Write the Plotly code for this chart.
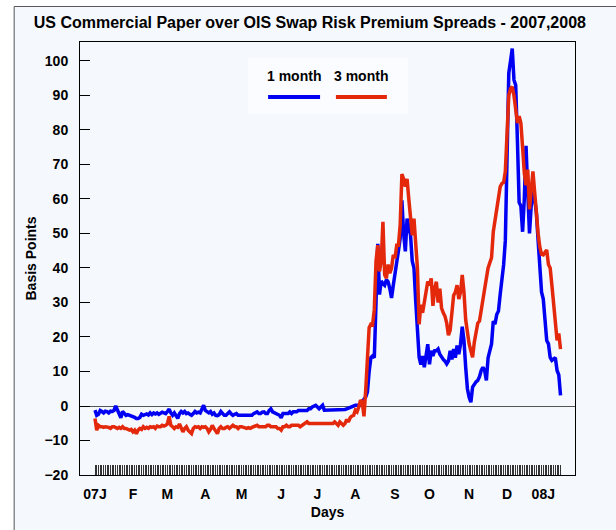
import pandas as pd
import plotly.graph_objects as go

# business days from 2 Jan 2007 to 15 Jan 2008 (one observation each)
days = pd.bdate_range("2007-01-02", "2008-01-15")

month_labels = ["07J", "F", "M", "A", "M", "J", "J", "A", "S", "O", "N", "D", "08J"]

# 1 month CP - OIS spread, basis points
one_month = [
    # Jan 07
    -1.2, -2.7, -2.4, -1.3, -1.6, -2.0, -1.5, -1.6, -2.0, -1.5, -1.6, -1.3, 0.0, -1.3, -2.0, -3.4,
    -1.6, -2.0, -2.7, -2.5, -2.7, -2.7,
    # Feb
    -3.0, -3.3, -3.6, -3.6, -3.3, -2.4, -2.7, -2.6, -2.3, -2.6, -2.0, -2.5, -2.0, -2.3, -2.0, -2.4,
    -2.2, -1.8, -2.0, -2.2,
    # Mar
    -1.6, -0.9, -2.0, -2.7, -2.0, -2.7, -3.6, -2.2, -1.6, -2.0, -1.6, -2.2, -2.0, -2.4, -2.7, -2.2,
    -1.6, -2.0, -1.8, -2.0, -0.6, 0.2,
    # Apr
    -1.3, -1.8, -2.0, -1.6, -2.4, -2.0, -2.7, -2.8, -2.5, -1.6, -2.0, -2.7, -2.7, -2.0, -1.7, -2.3,
    -2.7, -2.4, -2.2, -2.7, -2.7,
    # May
    -2.7, -2.7, -2.7, -2.7, -2.6, -2.7, -2.7, -2.2, -2.0, -1.7, -2.2, -2.2, -1.8, -1.7, -2.2, -2.2,
    -1.3, -0.8, -1.7, -2.0, -2.2, -2.5, -2.7,
    # Jun
    -3.4, -2.2, -2.2, -2.2, -2.2, -1.7, -2.2, -1.7, -1.7, -1.7, -1.3, -1.3, -1.3, -1.3, -1.3, -1.3,
    -0.8, -0.8, -0.3, 0.0, 0.2,
    # Jul
    -0.3, -0.8, -0.3, 0.2, -1.2, -1.2, -1.2, -1.2, -1.2, -1.0, -1.2, -1.2, -1.2, -1.2, -1.2, -1.2,
    -1.0, -0.8, -0.6, -0.3, 0.0, 0.2,
    # Aug
    0.2, 0.2, 0.2, 0.3, 0.5, 2.0, 2.6, 4.0, 10.0, 14.0, 14.5, 14.0, 30.0, 47.0, 32.3, 36.2,
    35.5, 35.0, 36.6, 36.0, 34.0, 31.3, 35.0,
    # Sep
    39.0, 42.8, 45.0, 48.6, 59.6, 50.0, 44.8, 54.3, 52.0, 49.5, 42.0, 40.0, 30.5, 23.7, 14.1, 12.0,
    14.5, 11.2, 14.0, 17.9,
    # Oct
    12.1, 16.0, 14.5, 16.0, 16.0, 16.5, 15.0, 14.1, 13.5, 13.0, 12.2, 13.0, 16.0, 13.5, 16.5, 14.0,
    17.5, 15.0, 17.9, 23.0, 19.0, 11.2, 5.0,
    # Nov
    2.5, 1.1, 5.5, 6.4, 7.0, 7.4, 8.5, 10.3, 11.2, 10.3, 7.4, 14.0, 16.0, 18.0, 24.6, 23.7,
    26.5, 27.5, 32.3, 36.1, 40.9, 48.0,
    # Dec
    70.0, 96.5, 100.0, 103.6, 94.5, 93.0, 77.0, 59.0, 58.0, 50.5, 60.0, 75.4, 62.0, 50.0, 58.0, 62.0,
    60.0, 56.0, 48.0, 38.0, 33.0,
    # Jan 08
    31.0, 24.0, 19.0, 18.0, 14.1, 13.2, 13.5, 14.0, 10.3, 9.0, 3.1,
]

# 3 month CP - OIS spread, basis points
three_month = [
    # Jan 07
    -3.6, -7.0, -5.6, -6.0, -6.0, -6.2, -6.0, -6.0, -6.2, -6.5, -6.0, -6.0, -6.2, -6.5, -6.2, -6.5,
    -6.0, -6.5, -6.5, -6.8, -7.0, -6.8,
    # Feb
    -7.5, -7.0, -8.0, -7.0, -6.5, -6.8, -6.0, -6.5, -6.2, -6.5, -6.0, -6.2, -6.0, -6.5, -5.8, -6.0,
    -6.0, -5.6, -5.8, -5.6,
    # Mar
    -5.2, -3.0, -5.6, -6.0, -6.5, -6.0, -6.2, -5.2, -6.5, -7.5, -6.5, -6.0, -7.0, -7.5, -8.0, -6.5,
    -6.0, -6.2, -6.0, -6.5, -6.0, -6.2,
    # Apr
    -6.0, -6.5, -7.5, -6.8, -5.6, -6.5, -7.2, -8.0, -6.5, -6.0, -6.5, -6.5, -6.2, -6.0, -6.5, -6.0,
    -5.6, -6.0, -6.0, -6.5, -6.0,
    # May
    -6.0, -6.2, -6.5, -6.5, -6.3, -6.5, -6.2, -6.0, -6.0, -5.6, -6.0, -6.0, -6.0, -5.8, -6.0, -5.6,
    -5.6, -6.0, -6.0, -6.0, -6.0, -6.5, -6.5,
    # Jun
    -7.0, -6.0, -6.0, -5.6, -6.0, -6.0, -5.6, -5.6, -5.8, -5.6, -5.6, -6.0, -5.6, -5.4, -5.1, -4.6,
    -5.1, -5.1, -5.1, -5.1, -5.1,
    # Jul
    -5.1, -5.1, -5.1, -5.1, -5.1, -5.1, -5.1, -5.1, -5.1, -5.1, -4.6, -5.1, -5.6, -4.6, -5.1, -5.6,
    -5.1, -3.9, -4.6, -3.4, -2.9, -2.7,
    # Aug
    -1.2, -1.7, -0.3, 1.7, 1.2, -3.0, 4.5, 14.0, 22.7, 23.7, 23.5, 28.0, 42.0, 46.6, 39.0, 42.0,
    53.4, 38.0, 37.0, 41.0, 38.5, 40.0, 43.8,
    # Sep
    42.8, 46.6, 46.6, 52.4, 67.2, 65.8, 63.6, 65.8, 60.0, 53.4, 49.5, 54.3, 48.6, 40.0, 23.7, 29.4,
    27.0, 30.4, 33.0, 36.1,
    # Oct
    35.0, 37.0, 29.0, 34.0, 36.0, 30.0, 34.0, 28.4, 27.0, 26.0, 24.0, 20.5, 22.0, 26.5, 32.0, 33.0,
    35.0, 31.0, 33.0, 38.0, 33.0, 25.0, 21.0,
    # Nov
    18.0, 16.0, 14.1, 18.5, 22.0, 24.0, 24.6, 28.0, 31.0, 35.0, 37.0, 40.0, 41.5, 43.0, 50.5, 54.0,
    57.0, 60.0, 63.5, 64.5, 64.8, 68.0,
    # Dec
    80.0, 90.0, 92.0, 92.5, 90.0, 85.0, 82.0, 84.0, 82.0, 75.0, 67.5, 64.0, 68.5, 57.0, 62.0, 68.0,
    62.0, 55.0, 50.0, 46.0, 44.0,
    # Jan 08
    43.8, 44.5, 45.2, 41.0, 40.0, 35.0, 29.0, 23.7, 19.0, 21.0, 16.5,
]

y_ticks = list(range(-20, 101, 10))

BLUE = "#0000f2"
RED = "#e4280c"
BG = "#f5f8fd"
FONT = "Liberation Sans, Arial, sans-serif"

x = list(range(len(days)))

# one tick per observation (the rug along the bottom), labels at month starts
ticktext = []
k = 0
for i, d in enumerate(days):
    if i == 0 or d.month != days[i - 1].month:
        ticktext.append(month_labels[k])
        k += 1
    else:
        ticktext.append("")

fig = go.Figure()
fig.add_trace(go.Scatter(x=x, y=one_month, mode="lines", name="1 month",
                         line=dict(color=BLUE, width=3.5)))
fig.add_trace(go.Scatter(x=x, y=three_month, mode="lines", name="3 month",
                         line=dict(color=RED, width=3.5)))

shapes = [
    # outer frame of the page (left and top edges visible)
    dict(type="rect", xref="paper", yref="paper", x0=-0.133, x1=1.3, y0=-0.4, y1=1.082,
         line=dict(color="#555555", width=1), fillcolor=BG, layer="below"),
    # legend box
    dict(type="rect", xref="paper", yref="paper", x0=0.339, x1=0.663, y0=0.833, y1=0.963,
         line=dict(width=0), fillcolor="#fbfcff", layer="below"),
    dict(type="line", xref="paper", yref="paper", x0=0.380, x1=0.485, y0=0.873, y1=0.873,
         line=dict(color=BLUE, width=4)),
    dict(type="line", xref="paper", yref="paper", x0=0.517, x1=0.620, y0=0.873, y1=0.873,
         line=dict(color=RED, width=4)),
]

annotations = [
    dict(text="1 month", xref="paper", yref="paper", x=0.432, y=0.921, showarrow=False,
         xanchor="center", yanchor="middle",
         font=dict(size=14, weight="bold", color="black")),
    dict(text="3 month", xref="paper", yref="paper", x=0.568, y=0.921, showarrow=False,
         xanchor="center", yanchor="middle",
         font=dict(size=14, weight="bold", color="black")),
]

fig.update_layout(
    width=616, height=530,
    margin=dict(l=80, r=41, t=42, b=51),
    paper_bgcolor="white", plot_bgcolor=BG,
    font=dict(family=FONT, size=14, color="black", weight="bold"),
    title=dict(text="US Commercial Paper over OIS Swap Risk Premium Spreads - 2007,2008",
               x=0.503, xanchor="center", xref="container", y=0.957, yanchor="middle",
               font=dict(size=16, weight="bold", color="black")),
    showlegend=False,
    shapes=shapes,
    annotations=annotations,
)

fig.update_xaxes(
    range=[-8.7, 278.4], showgrid=False, zeroline=False,
    tickmode="array", tickvals=x, ticktext=ticktext,
    ticks="inside", ticklen=10, tickwidth=1, tickcolor="#333333",
    ticklabelstandoff=6,
    showline=True, linecolor="black", linewidth=1, mirror=True,
    tickfont=dict(size=14, weight="bold"),
    title=dict(text="Days", font=dict(size=14, weight="bold"), standoff=6),
)
fig.update_yaxes(
    range=[-20, 105.5], showgrid=False,
    zeroline=True, zerolinecolor="#555555", zerolinewidth=1,
    tickmode="array", tickvals=y_ticks,
    ticks="inside", ticklen=10, tickwidth=1, tickcolor="black",
    ticklabelstandoff=8,
    showline=True, linecolor="black", linewidth=1, mirror=True,
    tickfont=dict(size=14, weight="bold"),
    title=dict(text="Basis Points", font=dict(size=14, weight="bold"), standoff=4),
)

# the page body has a default 8px margin; drop it so the figure sits at the window origin
fig.write_html("out.html", config={"displayModeBar": False},
               post_script="document.body.style.margin = '0';")
